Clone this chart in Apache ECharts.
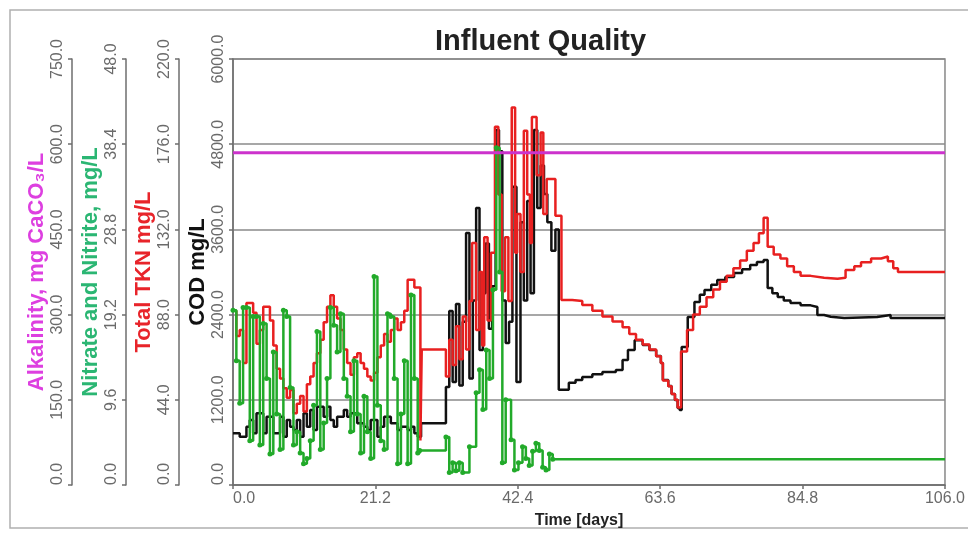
<!DOCTYPE html>
<html>
<head>
<meta charset="utf-8">
<title>Influent Quality</title>
<script src="https://cdn.jsdelivr.net/npm/echarts@6/dist/echarts.min.js"></script>
<style>
  html, body { margin: 0; padding: 0; background: #fff; }
  #chart { width: 968px; height: 534px; }
</style>
</head>
<body>
<div id="chart"></div>
<script>
// time axis (days)
const xTicks = [0, 21.2, 42.4, 63.6, 84.8, 106];

// COD, mg/L  [day, value]
const codPts = [
  [0,728],[0.5,728],[1,681],[1.5,681],[2,822],[2.5,916],[3,728],[3.5,1010],[4,1010],[4.5,728],
  [5,963],[5.5,963],[6,728],[6.5,728],[7,963],[7.5,681],[8,916],[8.5,822],[9,775],[9.5,916],
  [10,681],[10.5,1010],[11,822],[11.5,1056],[12,775],[12.5,1103],[13,1103],[13.5,963],[14,1103],[14.5,916],
  [15,822],[15.5,963],[16,963],[16.5,1056],[17,963],[17.5,1010],[18,1010],[18.5,869],[19,869],[19.5,822],
  [20,775],[20.5,916],[21,916],[21.5,681],[22,822],[22.5,963],[23,963],[23.5,869],[24,869],[24.5,775],
  [25,822],[25.5,822],[26,775],[26.5,822],[27,728],[27.5,681],
  [28,870],[31.7,1380],[32.2,2450],[32.7,1450],[33.2,2550],[33.7,1400],[34.2,2300],[34.7,3550],
  [35.2,1500],[35.7,2600],[36.2,3900],[36.7,1900],[37.2,2700],[37.6,3400],[38.1,2200],[38.6,2800],
  [39.1,5000],[39.6,4700],[40.1,2600],[40.6,2000],[41.1,2300],[41.6,4200],[42.2,1450],[42.8,3700],
  [43.3,2600],[43.8,4000],[44.3,2700],[44.8,5000],[45.3,3900],[45.8,4500],[46.3,4100],[46.8,3700],
  [47.4,3300],[48,3600],[48.5,1340],[49.5,1340],[50,1440],[51,1480],[52,1520],[53.5,1560],
  [55,1590],[57,1620],[58,1760],[58.8,1900],[59.8,2040],[61,1972],[62,1901],[63,1817],[63.7,1718],
  [64,1479],[64.8,1394],[65.3,1282],[65.8,1197],[66.2,1085],[66.5,1056],[66.8,1944],[67.7,2366],
  [68.7,2578],[69.5,2680],[70.2,2747],[71.2,2820],[72.1,2887],[73.3,2930],[74.6,2986],[75.8,3040],
  [77,3099],[78,3140],[79,3169],[79.6,2775],[80.3,2700],[81.1,2648],[82,2600],[83,2563],[84.5,2530],
  [86,2507],[87,2394],[88,2370],[89,2352],[91,2366],[95.9,2394],[97.9,2352],[106,2352]
];

// Total TKN, mg/L  [day, value]
const tknPts = [
  [0,90],[0.5,77],[1,80],[1.5,63],[2,94],[2.5,94],[3,89],[3.5,73],[4,80],[4.5,92],
  [5,92],[5.5,85],[6,72],[6.5,60],[7,55],[7.5,50],[8,45],[8.5,49],[9,37],[9.5,42],
  [10,46],[10.5,38],[11,52],[11.5,56],[12,63],[12.5,68],[13,75],[13.5,84],[14,92],[14.5,98],
  [15,92],[15.5,86],[16,80],[16.5,70],[17,63],[17.5,57],[18,66],[18.5,68],[19,63],[19.5,60],
  [20,56],[20.5,54],[21,58],[21.5,66],[22,72],[22.5,78],[23,74],[23.5,80],[24,86],[24.5,80],
  [25,84],[25.5,90],[26,106],[26.5,106],[27,102],[27.5,102],[27.9,23],[28.1,70],
  [31.7,56],[32.2,75],[32.7,62],[33.2,82],[33.7,65],[34.2,87],[34.7,70],[35.2,95],[35.6,125],
  [36.2,80],[36.7,110],[37.1,72],[37.4,128],[37.9,85],[38.4,120],[39,185],[39.5,150],[40,100],
  [40.5,128],[41,95],[41.5,195],[42,120],[42.3,140],[42.8,110],[43.3,183],[43.8,150],[44.2,125],
  [44.5,190],[45.2,160],[45.8,182],[46.2,140],[46.7,158],[48,139],[48.9,95.5],[50.5,95],[52,93],
  [53.5,90],[55,87],[56.5,84.5],[58,81.5],[59,78],[60,75],[61,72.5],[62,70],[63,66.5],[63.7,63],
  [64,54],[64.8,51],[65.3,47],[65.8,44],[66.2,40],[66.7,69],[67.6,80],[68.5,88],[69.5,92],
  [70.5,97],[71.5,101],[72.5,105],[73.5,108],[74.5,112],[75.5,116],[76.5,121],[77.5,125],[78.3,130],
  [79,138],[79.6,123],[80.5,119],[81.5,117],[82.5,113],[83.5,110],[84.5,108],[86,107],[88,106.5],
  [90,107],[91.2,111],[92.5,113],[93.5,115],[95,117],[96.5,118],[97.5,115.5],[98.3,112],[99,110],
  [106,110]
];

// Nitrate and Nitrite, mg/L  [day, value]
const noxPts = [
  [0,19.7],[0.5,14],[1,9.2],[1.5,20],[2,20],[2.5,5],[3,19],[3.5,19],[4,4.5],[4.5,18.2],
  [5,12],[5.5,3.5],[6,15],[6.5,8],[7,4],[7.5,19.7],[8,19],[8.5,11],[9,4.5],[9.5,6],
  [10,3.6],[10.5,2.4],[11,3],[11.5,5],[12,9],[12.5,17.3],[13,4],[13.5,7],[14,12],[14.5,20],
  [15,18],[15.5,15],[16,19.3],[16.5,12],[17,10],[17.5,6],[18,14],[18.5,8],[19,3.6],[19.5,10],
  [20,6],[20.5,3],[21,23.5],[21.5,9],[22,5],[22.5,4],[23,19.3],[23.5,19],[24,12],[24.5,2.4],
  [25,8],[25.5,14],[26,2.4],[26.5,21.4],[27,12],[27.5,3.6],
  [27.8,3.9],[31.7,5.4],[32.2,1.4],[32.7,2.5],[33.2,1.6],[33.7,2.5],[34.2,1.4],[35.2,4.3],
  [36.2,10.4],[36.7,13],[37.2,8.5],[37.7,15.2],[38.2,12],[38.7,22],[39.2,38],[39.7,24],[40.1,2.5],
  [40.6,9.6],[41.4,5.1],[41.9,1.7],[42.5,2.5],[43.1,4.3],[43.6,3],[44.1,2.2],[44.6,3.8],[45.1,4.7],
  [45.6,3.9],[46.1,2],[46.6,1.7],[47.1,3.5],[47.6,2.9],[106,2.9]
];

// Alkalinity, mg CaCO3/L  [day, value]
const alkPts = [[0,585],[106,585]];

const FONT = "'Liberation Sans', Arial, sans-serif";
const LABEL_COLOR = "#6a6a6a";
const AXIS_COLOR = "#6e6e6e";

const chart = echarts.init(document.getElementById("chart"), null, { renderer: "canvas" });

function leftAxis(name, color, max, interval, offset, extra){
  return Object.assign({
    type: "value",
    position: "left",
    offset,
    min: 0,
    max,
    interval,
    name,
    nameLocation: "middle",
    nameGap: 24,
    nameMoveOverlap: false,
    nameTextStyle: { color, fontSize: 22, fontWeight: "bold", fontFamily: FONT },
    axisLine: { show: true, lineStyle: { color: AXIS_COLOR, width: 1.5 } },
    axisTick: { show: true, length: 4, lineStyle: { color: AXIS_COLOR, width: 1.5 } },
    axisLabel: {
      rotate: 90,
      margin: 6,
      fontSize: 16,
      color: LABEL_COLOR,
      fontFamily: FONT,
      alignMinLabel: "left",
      formatter: (v) => Number(v).toFixed(1)
    },
    splitLine: { show: false }
  }, extra || {});
}

const noxData = noxPts.map((p, i) => i === noxPts.length - 1 ? { value: p, symbol: "none" } : p);

chart.setOption({
  animation: false,
  backgroundColor: "#fff",
  title: {
    text: "Influent Quality",
    left: 430,
    top: 22,
    textStyle: { fontSize: 29, fontWeight: "bold", color: "#222", fontFamily: FONT }
  },
  graphic: [
    {
      type: "rect",
      shape: { x: 10, y: 10, width: 975, height: 518 },
      style: { fill: "none", stroke: "#b0b0b0", lineWidth: 1.5 },
      silent: true
    }
  ],
  grid: {
    left: 233, right: 20, top: 59, bottom: 49,
    show: true, borderColor: "#888", borderWidth: 1.5, backgroundColor: "transparent"
  },
  xAxis: {
    type: "value",
    min: xTicks[0],
    max: xTicks[xTicks.length - 1],
    interval: xTicks[1],
    name: "Time [days]",
    nameLocation: "middle",
    nameGap: 28,
    nameMoveOverlap: false,
    nameTextStyle: { color: "#222", fontSize: 16, fontWeight: "bold", fontFamily: FONT, padding: [0, 20, 0, 0] },
    axisLine: { show: true, lineStyle: { color: AXIS_COLOR, width: 1.5 } },
    axisTick: { show: true, length: 4, lineStyle: { color: AXIS_COLOR, width: 1.5 } },
    axisLabel: {
      margin: 6,
      fontSize: 16,
      color: LABEL_COLOR,
      fontFamily: FONT,
      alignMinLabel: "left",
      formatter: (v) => Number(v).toFixed(1)
    },
    splitLine: { show: false }
  },
  yAxis: [
    leftAxis("COD mg/L", "#111", 6000, 1200, 0, {
      splitLine: { show: true, lineStyle: { color: "#8a8a8a", width: 1.5 } }
    }),
    leftAxis("Total TKN mg/L", "#e8242a", 220, 44, 54),
    leftAxis("Nitrate and Nitrite, mg/L", "#2bb673", 48, 9.6, 107),
    leftAxis("Alkalinity, mg CaCO\u2083/L", "#dd3fe0", 750, 150, 161)
  ],
  series: [
    {
      name: "COD",
      type: "line",
      yAxisIndex: 0,
      step: "end",
      showSymbol: false,
      lineStyle: { color: "#111", width: 2.5 },
      itemStyle: { color: "#111" },
      data: codPts
    },
    {
      name: "Total TKN",
      type: "line",
      yAxisIndex: 1,
      step: "end",
      showSymbol: false,
      lineStyle: { color: "#e82020", width: 2.5 },
      itemStyle: { color: "#e82020" },
      data: tknPts
    },
    {
      name: "Nitrate and Nitrite",
      type: "line",
      yAxisIndex: 2,
      step: "end",
      symbol: "circle",
      symbolSize: 5,
      showSymbol: true,
      lineStyle: { color: "#22aa2a", width: 2.5 },
      itemStyle: { color: "#22aa2a" },
      data: noxData
    },
    {
      name: "Alkalinity",
      type: "line",
      yAxisIndex: 3,
      showSymbol: false,
      lineStyle: { color: "#cc33cc", width: 3 },
      itemStyle: { color: "#cc33cc" },
      data: alkPts
    }
  ]
});
</script>
</body>
</html>
